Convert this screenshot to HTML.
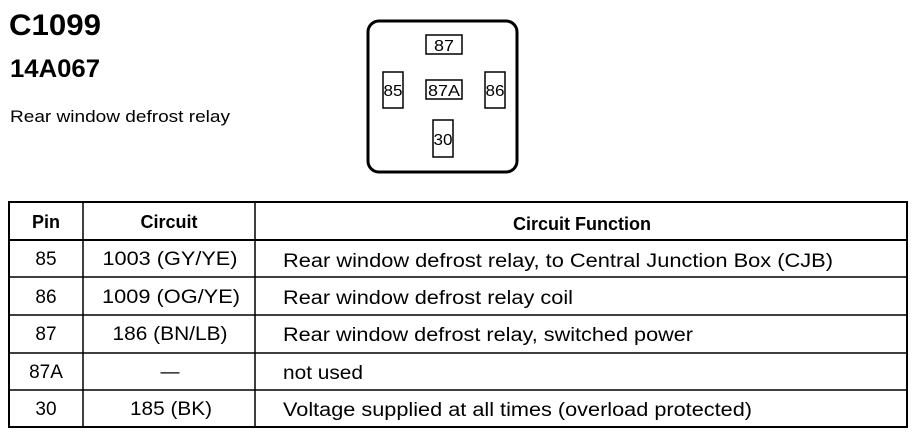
<!DOCTYPE html>
<html><head><meta charset="utf-8"><style>
html,body{margin:0;padding:0;background:#fff;}
svg{display:block}
text{font-family:"Liberation Sans",Arial,sans-serif;fill:#000}
</style></head><body>
<svg width="916" height="448" viewBox="0 0 916 448" xmlns="http://www.w3.org/2000/svg">
<text x="9" y="35" font-size="30" font-weight="bold" textLength="92" lengthAdjust="spacingAndGlyphs">C1099</text>
<text x="10" y="77" font-size="25" font-weight="bold" textLength="90" lengthAdjust="spacingAndGlyphs">14A067</text>
<text x="10" y="122" font-size="17" textLength="220" lengthAdjust="spacingAndGlyphs">Rear window defrost relay</text>

<rect x="368" y="21" width="149" height="151" rx="11" fill="none" stroke="#000" stroke-width="3"/>
<g fill="none" stroke="#000" stroke-width="1.5">
<rect x="426" y="35" width="36" height="19"/>
<rect x="426" y="80" width="36" height="19"/>
<rect x="383" y="72" width="20" height="36"/>
<rect x="485" y="72" width="20" height="36"/>
<rect x="433" y="120" width="20" height="37"/>
</g>
<g font-size="16" text-anchor="middle">
<text x="444" y="51" textLength="20" lengthAdjust="spacingAndGlyphs">87</text>
<text x="444" y="96" textLength="32" lengthAdjust="spacingAndGlyphs">87A</text>
<text x="393" y="96" textLength="19" lengthAdjust="spacingAndGlyphs">85</text>
<text x="495" y="96" textLength="19" lengthAdjust="spacingAndGlyphs">86</text>
<text x="443" y="145" textLength="19" lengthAdjust="spacingAndGlyphs">30</text>
</g>

<rect x="9" y="202" width="898" height="225" fill="none" stroke="#000" stroke-width="2"/>
<g stroke="#000" stroke-width="1.5">
<line x1="9" y1="240" x2="907" y2="240" stroke-width="2"/>
<line x1="9" y1="277" x2="907" y2="277"/>
<line x1="9" y1="315" x2="907" y2="315"/>
<line x1="9" y1="353" x2="907" y2="353"/>
<line x1="9" y1="390" x2="907" y2="390"/>
<line x1="83" y1="202" x2="83" y2="427"/>
<line x1="255" y1="202" x2="255" y2="427"/>
</g>
<g font-size="18" font-weight="bold" text-anchor="middle">
<text x="46" y="228">Pin</text>
<text x="169" y="228">Circuit</text>
<text x="582" y="230">Circuit Function</text>
</g>
<g font-size="19" text-anchor="middle">
<text x="46" y="265">85</text>
<text x="170" y="265" textLength="135" lengthAdjust="spacingAndGlyphs">1003 (GY/YE)</text>
<text x="46" y="303">86</text>
<text x="171" y="303" textLength="138" lengthAdjust="spacingAndGlyphs">1009 (OG/YE)</text>
<text x="46" y="340">87</text>
<text x="170" y="340" textLength="115" lengthAdjust="spacingAndGlyphs">186 (BN/LB)</text>
<text x="46" y="378">87A</text>
<text x="170" y="378">—</text>
<text x="46" y="415">30</text>
<text x="171" y="415" textLength="82" lengthAdjust="spacingAndGlyphs">185 (BK)</text>
</g>
<g font-size="19">
<text x="283" y="267" textLength="550" lengthAdjust="spacingAndGlyphs">Rear window defrost relay, to Central Junction Box (CJB)</text>
<text x="283" y="304" textLength="290" lengthAdjust="spacingAndGlyphs">Rear window defrost relay coil</text>
<text x="283" y="341" textLength="410" lengthAdjust="spacingAndGlyphs">Rear window defrost relay, switched power</text>
<text x="283" y="379" textLength="80" lengthAdjust="spacingAndGlyphs">not used</text>
<text x="283" y="416" textLength="469" lengthAdjust="spacingAndGlyphs">Voltage supplied at all times (overload protected)</text>
</g>
</svg>
</body></html>
